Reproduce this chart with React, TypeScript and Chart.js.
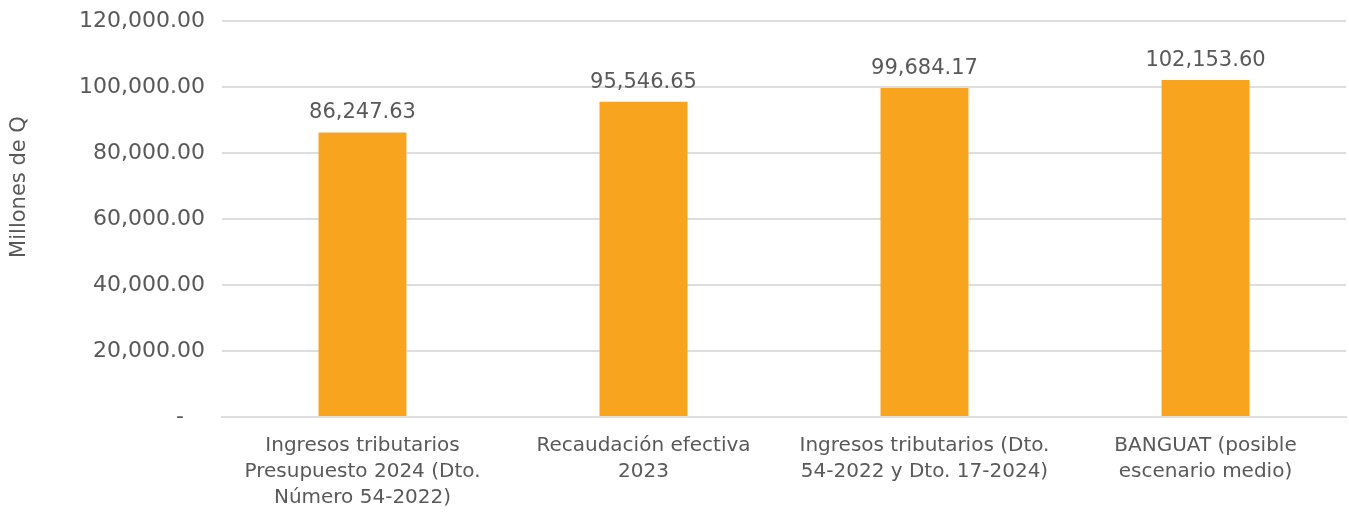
import React, { useEffect, useRef } from "react";
import { Chart, registerables } from "chart.js";

Chart.register(...registerables);

const categories: string[][] = [
  ["Ingresos tributarios", "Presupuesto 2024 (Dto.", "Número 54-2022)"],
  ["Recaudación efectiva", "2023"],
  ["Ingresos tributarios (Dto.", "54-2022 y Dto. 17-2024)"],
  ["BANGUAT (posible", "escenario medio)"],
];
const values: number[] = [86247.63, 95546.65, 99684.17, 102153.6];
const yTicks: number[] = [0, 20000, 40000, 60000, 80000, 100000, 120000];
const axisTitle = "Millones de Q";

const FONT = "'DejaVu Sans', sans-serif";
const TEXT = "#595959";

const fmt = (v: number) =>
  v.toLocaleString("en-US", { minimumFractionDigits: 2, maximumFractionDigits: 2 });

const labelsPlugin = {
  id: "valueLabels",
  afterDatasetsDraw(chart: any) {
    const ctx = chart.ctx;
    const meta = chart.getDatasetMeta(0);
    ctx.save();
    ctx.font = `21px ${FONT}`;
    ctx.fillStyle = TEXT;
    ctx.textAlign = "center";
    ctx.textBaseline = "alphabetic";
    meta.data.forEach((bar: any, i: number) => {
      ctx.fillText(fmt(values[i]), bar.x, bar.y - 14);
    });
    // axis title
    ctx.translate(20, 187);
    ctx.rotate(-Math.PI / 2);
    ctx.font = `21px ${FONT}`;
    ctx.textBaseline = "middle";
    ctx.fillText(axisTitle, 0, 0);
    ctx.restore();
  },
};

export default function App() {
  const ref = useRef<HTMLCanvasElement | null>(null);
  useEffect(() => {
    if (!ref.current) return;
    const chart = new Chart(ref.current, {
      type: "bar",
      data: {
        labels: categories,
        datasets: [
          {
            data: values,
            backgroundColor: "#F8A41F",
            categoryPercentage: 1,
            barPercentage: 0.313,
          },
        ],
      },
      options: {
        animation: false,
        responsive: true,
        maintainAspectRatio: false,
        layout: { padding: { top: 21, right: 3, left: 0, bottom: 0 } },
        plugins: { legend: { display: false }, tooltip: { enabled: false } },
        scales: {
          x: {
            grid: { display: false, drawTicks: false },
            border: { display: true, color: "#dedede", width: 2 },
            ticks: {
              padding: 16,
              color: TEXT,
              font: { family: FONT, size: 20, lineHeight: 1.3 },
              maxRotation: 0,
              autoSkip: false,
            },
            afterFit: (s: any) => {
              s.height = 97;
            },
          },
          y: {
            min: 0,
            max: 120000,
            border: { display: false },
            grid: { color: "#dedede", lineWidth: 2, drawTicks: false },
            afterBuildTicks: (s: any) => {
              s.ticks = yTicks.map((v) => ({ value: v }));
            },
            ticks: {
              padding: 17,
              color: TEXT,
              font: { family: FONT, size: 22 },
              callback: (v: any) => (Number(v) === 0 ? "-   " : fmt(Number(v))),
            },
            afterFit: (s: any) => {
              s.width = 222;
              s.paddingTop = 0;
              s.paddingBottom = 0;
            },
          },
        },
      },
      plugins: [labelsPlugin],
    });
    return () => chart.destroy();
  }, []);
  return (
    <div style={{ position: "absolute", left: 0, top: 0, width: 1349, height: 514, background: "#fff" }}>
      <canvas ref={ref} />
    </div>
  );
}
